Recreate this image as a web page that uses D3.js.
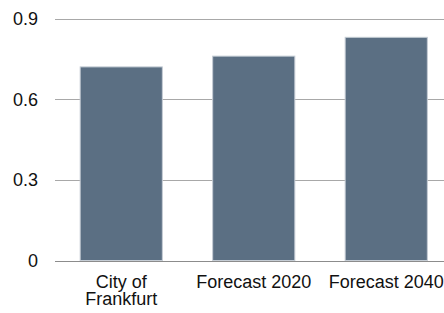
<!DOCTYPE html>
<html><head><meta charset="utf-8">
<script src="https://cdn.jsdelivr.net/npm/d3@7"></script>
<style>body{margin:0;background:#fff;overflow:hidden}svg{display:block}</style>
</head><body>
<script>
const categories = ["City of Frankfurt", "Forecast 2020", "Forecast 2040"];
const categoryLines = [["City of", "Frankfurt"], ["Forecast 2020"], ["Forecast 2040"]];
const values = [0.72, 0.76, 0.83];
const tickValues = [0, 0.3, 0.6, 0.9];
const tickLabels = ["0", "0.3", "0.6", "0.9"];

(function () {
const W = 444, H = 313;
const svg = d3.select("body").append("svg").attr("width", W).attr("height", H);
const mLeft = 55, mRight = 452.5, mTop = 18.5, mBottom = 260.5;

const x = d3.scaleBand().domain(categories).range([mLeft, mRight]).paddingInner(0.38).paddingOuter(0.19);
const y = d3.scaleLinear().domain([0, 0.9]).range([mBottom, mTop]);

const font = "'Liberation Sans', Arial, sans-serif";
const fs = 18;

svg.append("g").selectAll("line").data(tickValues.filter(v => v > 0)).join("line")
  .attr("x1", mLeft).attr("x2", W)
  .attr("y1", d => Math.round(y(d)) + 0.5).attr("y2", d => Math.round(y(d)) + 0.5)
  .attr("stroke", "#a8a8a8").attr("stroke-width", 1);

svg.append("g").selectAll("rect").data(values).join("rect")
  .attr("x", (d, i) => x(categories[i]))
  .attr("width", x.bandwidth())
  .attr("y", d => y(d))
  .attr("height", d => y(0) - y(d))
  .attr("fill", "#5b6f83")
  .attr("stroke", "#c4ccd4").attr("stroke-width", 1);

svg.append("line").attr("x1", mLeft).attr("x2", W)
  .attr("y1", Math.round(y(0)) + 0.5).attr("y2", Math.round(y(0)) + 0.5)
  .attr("stroke", "#8c8c8c").attr("stroke-width", 1);

svg.append("g").selectAll("text").data(tickValues).join("text")
  .attr("x", 38).attr("y", d => y(d)).attr("dy", "0.36em")
  .attr("text-anchor", "end")
  .attr("font-family", font).attr("font-size", fs).attr("fill", "#111")
  .text((d, i) => tickLabels[i]);

const xl = svg.append("g").selectAll("text").data(categories).join("text")
  .attr("text-anchor", "middle")
  .attr("font-family", font).attr("font-size", fs).attr("fill", "#111")
  .attr("x", d => x(d) + x.bandwidth() / 2)
  .attr("y", 288);
xl.each(function(d, i) {
  d3.select(this).selectAll("tspan").data(categoryLines[i]).join("tspan")
    .attr("x", x(d) + x.bandwidth() / 2)
    .attr("dy", (t, j) => j === 0 ? 0 : 16.5)
    .text(t => t);
});
})();
</script>
</body></html>
